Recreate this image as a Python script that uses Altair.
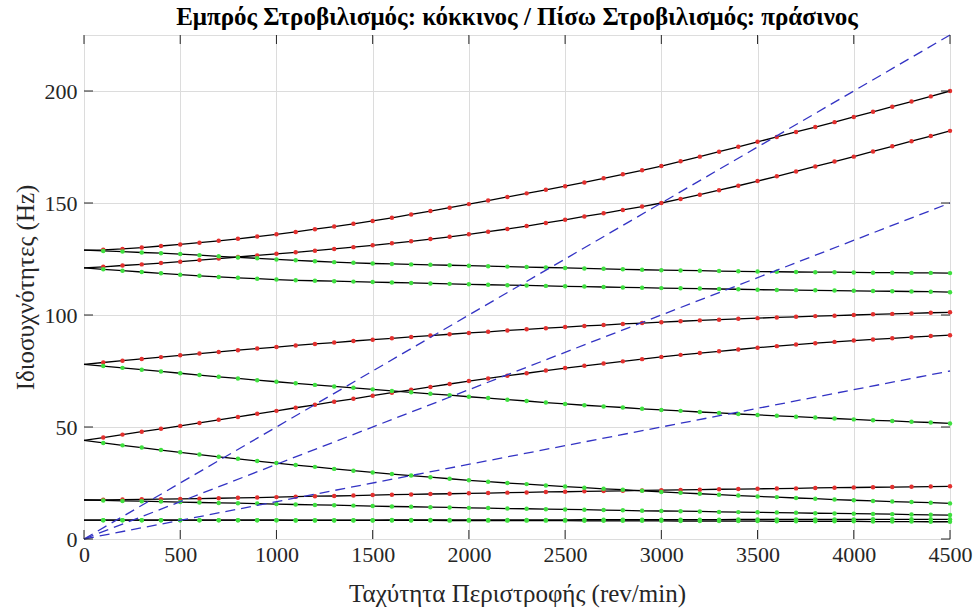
import altair as alt
import pandas as pd

# Rotational speed grid (rev/min)
rpm = [0, 100, 200, 300, 400, 500, 600, 700, 800, 900, 1000, 1100, 1200, 1300, 1400, 1500,
       1600, 1700, 1800, 1900, 2000, 2100, 2200, 2300, 2400, 2500, 2600, 2700, 2800, 2900,
       3000, 3100, 3200, 3300, 3400, 3500, 3600, 3700, 3800, 3900, 4000, 4100, 4200, 4300,
       4400, 4500]

# Natural frequencies (Hz)
fw_1 = [8.4, 8.4, 8.4, 8.4, 8.4, 8.4, 8.4, 8.4, 8.4, 8.4, 8.4, 8.4, 8.4, 8.4, 8.4, 8.4,
        8.5, 8.5, 8.5, 8.5, 8.5, 8.5, 8.5, 8.5, 8.5, 8.5, 8.6, 8.6, 8.6, 8.6, 8.6, 8.6,
        8.6, 8.6, 8.7, 8.7, 8.7, 8.7, 8.7, 8.7, 8.7, 8.8, 8.8, 8.8, 8.8, 8.8]
bw_1 = [8.4, 8.4, 8.4, 8.4, 8.4, 8.4, 8.4, 8.4, 8.4, 8.4, 8.4, 8.3, 8.3, 8.3, 8.3, 8.3,
        8.3, 8.3, 8.3, 8.2, 8.2, 8.2, 8.2, 8.2, 8.2, 8.2, 8.1, 8.1, 8.1, 8.1, 8.1, 8.0,
        8.0, 8.0, 8.0, 8.0, 7.9, 7.9, 7.9, 7.9, 7.9, 7.8, 7.8, 7.8, 7.7, 7.7]
fw_2 = [17.4, 17.5, 17.6, 17.7, 17.8, 17.9, 18.0, 18.2, 18.4, 18.5, 18.7, 18.9, 19.1, 19.2,
        19.4, 19.6, 19.8, 19.9, 20.1, 20.2, 20.4, 20.5, 20.7, 20.8, 21.0, 21.1, 21.3, 21.4,
        21.5, 21.7, 21.8, 21.9, 22.0, 22.2, 22.3, 22.4, 22.5, 22.6, 22.8, 22.9, 23.0, 23.1,
        23.2, 23.3, 23.4, 23.5]
bw_2 = [17.4, 17.2, 17.0, 16.9, 16.7, 16.5, 16.3, 16.1, 16.0, 15.8, 15.6, 15.4, 15.2, 15.1,
        14.9, 14.7, 14.5, 14.4, 14.2, 14.1, 13.9, 13.8, 13.6, 13.5, 13.3, 13.2, 13.1, 12.9,
        12.8, 12.6, 12.5, 12.4, 12.3, 12.1, 12.0, 11.9, 11.8, 11.7, 11.5, 11.4, 11.3, 11.2,
        11.1, 10.9, 10.8, 10.7]
fw_3 = [44.0, 45.3, 46.6, 47.9, 49.2, 50.5, 51.8, 53.2, 54.5, 55.9, 57.2, 58.6, 59.9, 61.3,
        62.6, 64.0, 65.3, 66.6, 67.9, 69.2, 70.5, 71.7, 72.9, 74.0, 75.2, 76.3, 77.3, 78.3,
        79.3, 80.3, 81.3, 82.2, 83.0, 83.8, 84.6, 85.4, 86.1, 86.8, 87.4, 88.0, 88.6, 89.1,
        89.6, 90.1, 90.6, 91.0]
bw_3 = [44.0, 42.9, 41.8, 40.8, 39.7, 38.7, 37.7, 36.7, 35.8, 34.8, 33.9, 33.0, 32.2, 31.3,
        30.5, 29.7, 29.0, 28.3, 27.6, 26.9, 26.2, 25.6, 25.0, 24.5, 23.9, 23.4, 22.9, 22.4,
        22.0, 21.5, 21.0, 20.6, 20.2, 19.8, 19.4, 19.0, 18.7, 18.3, 18.0, 17.6, 17.3, 17.0,
        16.7, 16.5, 16.2, 15.9]
fw_4 = [78.0, 78.8, 79.6, 80.4, 81.2, 82.0, 82.8, 83.5, 84.3, 85.0, 85.7, 86.4, 87.1, 87.7,
        88.4, 89.0, 89.6, 90.2, 90.8, 91.4, 92.0, 92.5, 93.1, 93.6, 94.1, 94.6, 95.1, 95.5,
        96.0, 96.4, 96.8, 97.2, 97.6, 97.9, 98.3, 98.6, 98.9, 99.2, 99.5, 99.7, 100.0, 100.3,
        100.5, 100.7, 101.0, 101.2]
bw_4 = [78.0, 77.2, 76.4, 75.6, 74.8, 74.0, 73.2, 72.4, 71.7, 70.9, 70.2, 69.5, 68.8, 68.1,
        67.5, 66.8, 66.1, 65.5, 64.8, 64.2, 63.5, 62.9, 62.2, 61.6, 60.9, 60.3, 59.7, 59.2,
        58.7, 58.1, 57.6, 57.2, 56.7, 56.3, 55.8, 55.4, 55.0, 54.6, 54.2, 53.8, 53.4, 53.0,
        52.7, 52.3, 52.0, 51.6]
fw_5 = [121.0, 121.5, 122.1, 122.6, 123.2, 123.8, 124.5, 125.2, 125.9, 126.6, 127.3, 128.0,
        128.7, 129.5, 130.3, 131.1, 132.0, 132.9, 133.9, 134.9, 136.0, 137.2, 138.4, 139.7,
        141.1, 142.5, 144.0, 145.4, 146.9, 148.4, 150.0, 151.8, 153.7, 155.7, 157.7, 159.8,
        161.9, 164.1, 166.3, 168.5, 170.7, 173.0, 175.3, 177.6, 179.9, 182.2]
bw_5 = [121.0, 120.4, 119.8, 119.2, 118.6, 118.0, 117.5, 117.0, 116.6, 116.2, 115.8, 115.5,
        115.3, 115.1, 114.9, 114.7, 114.5, 114.3, 114.1, 113.9, 113.7, 113.5, 113.3, 113.2,
        113.0, 112.8, 112.7, 112.5, 112.3, 112.2, 112.0, 111.9, 111.8, 111.6, 111.5, 111.3,
        111.2, 111.1, 111.0, 110.9, 110.8, 110.7, 110.6, 110.5, 110.4, 110.2]
fw_6 = [129.0, 129.1, 129.5, 130.1, 130.8, 131.5, 132.3, 133.1, 134.0, 135.0, 136.0, 137.1,
        138.3, 139.5, 140.7, 142.0, 143.4, 144.9, 146.4, 147.9, 149.5, 151.1, 152.7, 154.3,
        155.9, 157.5, 159.2, 161.0, 162.8, 164.6, 166.5, 168.6, 170.7, 172.9, 175.1, 177.3,
        179.5, 181.7, 183.9, 186.1, 188.4, 190.7, 193.0, 195.3, 197.6, 200.0]
bw_6 = [129.0, 128.6, 128.3, 127.9, 127.6, 127.2, 126.7, 126.2, 125.7, 125.3, 124.8, 124.4,
        124.0, 123.6, 123.3, 123.0, 122.8, 122.6, 122.4, 122.2, 122.0, 121.8, 121.6, 121.4,
        121.2, 121.0, 120.8, 120.6, 120.4, 120.2, 120.0, 119.9, 119.8, 119.6, 119.5, 119.4,
        119.3, 119.2, 119.1, 119.1, 119.0, 118.9, 118.9, 118.8, 118.8, 118.7]

curve_names = ["fw_1", "bw_1", "fw_2", "bw_2", "fw_3", "bw_3",
               "fw_4", "bw_4", "fw_5", "bw_5", "fw_6", "bw_6"]
curve_values = [fw_1, bw_1, fw_2, bw_2, fw_3, bw_3, fw_4, bw_4, fw_5, bw_5, fw_6, bw_6]
marker_kind = ["green", "green", "red", "green", "red", "green",
               "red", "green", "red", "green", "red", "green"]

# Excitation lines (1x, 2x, 3x) endpoints
exc_names = ["1x", "2x", "3x"]
exc_start_rpm = [0, 0, 0]
exc_start_hz = [0, 0, 0]
exc_end_rpm = [4500, 4500, 4500]
exc_end_hz = [75, 150, 225]

x_ticks = [0, 500, 1000, 1500, 2000, 2500, 3000, 3500, 4000, 4500]
y_ticks = [0, 50, 100, 150, 200]

rows = []
for name, vals, kind in zip(curve_names, curve_values, marker_kind):
    for r, v in zip(rpm, vals):
        rows.append({"rpm": r, "hz": v, "curve": name, "kind": kind})
df = pd.DataFrame(rows)

exc_rows = []
for n, r0, h0, r1, h1 in zip(exc_names, exc_start_rpm, exc_start_hz, exc_end_rpm, exc_end_hz):
    exc_rows.append({"rpm": r0, "hz": h0, "order": n})
    exc_rows.append({"rpm": r1, "hz": h1, "order": n})
exc = pd.DataFrame(exc_rows)

FONT = "Liberation Serif"
W, H = 866, 504
TICK = 9

x_scale = alt.Scale(domain=[0, 4500], nice=False, zero=False)
y_scale = alt.Scale(domain=[0, 225], nice=False, zero=False)

x_axis = alt.Axis(values=x_ticks, format="d", title="Ταχύτητα Περιστροφής (rev/min)",
                  grid=True, ticks=False, domain=False, labelPadding=5, labelFontSize=22,
                  labelFont=FONT, labelColor="#262626", titleFont=FONT, titleFontSize=25,
                  titleFontWeight="normal", titleColor="#262626", titleY=54,
                  titleBaseline="middle", gridColor="#dcdcdc", gridWidth=1, labelFlush=False)
y_axis = alt.Axis(values=y_ticks, format="d", title="Ιδιοσυχνότητες (Hz)", grid=True,
                  ticks=False, domain=False, labelPadding=7, labelFontSize=22,
                  labelFont=FONT, labelColor="#262626", titleFont=FONT, titleFontSize=25,
                  titleFontWeight="normal", titleColor="#262626", titleX=-51,
                  titleBaseline="alphabetic", gridColor="#dcdcdc", gridWidth=1,
                  labelFlush=False)


def X():
    return alt.X("rpm:Q", scale=x_scale, axis=x_axis)


def Y():
    return alt.Y("hz:Q", scale=y_scale, axis=y_axis)


lines = alt.Chart(df).mark_line(color="black", strokeWidth=1.3).encode(
    x=X(), y=Y(), detail="curve:N", order="rpm:Q",
)

red_pts = alt.Chart(df).transform_filter(
    (alt.datum.rpm >= 100) & (alt.datum.kind == "red")
).mark_circle(color="#e3302e", size=20, opacity=1).encode(x=X(), y=Y())
green_pts = alt.Chart(df).transform_filter(
    (alt.datum.rpm >= 100) & (alt.datum.kind == "green")
).mark_circle(color="#3fe03f", size=20, opacity=1).encode(x=X(), y=Y())

exc_lines = alt.Chart(exc).mark_line(color="#3333c4", strokeWidth=1.3,
                                     strokeDash=[10, 6]).encode(
    x=X(), y=Y(), detail="order:N"
)

xt = pd.DataFrame({"rpm": x_ticks})
yt = pd.DataFrame({"hz": y_ticks})
tick_col = "#262626"
bottom_ticks = alt.Chart(xt).mark_rule(color=tick_col, strokeWidth=1).encode(
    x=X(), y=alt.value(H), y2=alt.value(H - TICK))
top_ticks = alt.Chart(xt).mark_rule(color=tick_col, strokeWidth=1).encode(
    x=X(), y=alt.value(0), y2=alt.value(TICK))
left_ticks = alt.Chart(yt).mark_rule(color=tick_col, strokeWidth=1).encode(
    y=Y(), x=alt.value(0), x2=alt.value(TICK))
right_ticks = alt.Chart(yt).mark_rule(color=tick_col, strokeWidth=1).encode(
    y=Y(), x=alt.value(W), x2=alt.value(W - TICK))

chart = alt.layer(
    lines, red_pts, green_pts, exc_lines,
    bottom_ticks, top_ticks, left_ticks, right_ticks
).properties(
    width=W, height=H,
    title=alt.Title("Εμπρός Στροβιλισμός: κόκκινος / Πίσω Στροβιλισμός: πράσινος",
                    font=FONT, fontSize=25, fontWeight="bold", color="black",
                    anchor="middle", offset=2),
    padding={"left": 84, "top": 35, "right": 26, "bottom": 69},
    autosize=alt.AutoSizeParams(type="none"),
).configure_view(
    stroke="#262626", strokeWidth=1
).configure(background="white")

chart.save("out.html", embed_options={"renderer": "svg", "actions": False})
